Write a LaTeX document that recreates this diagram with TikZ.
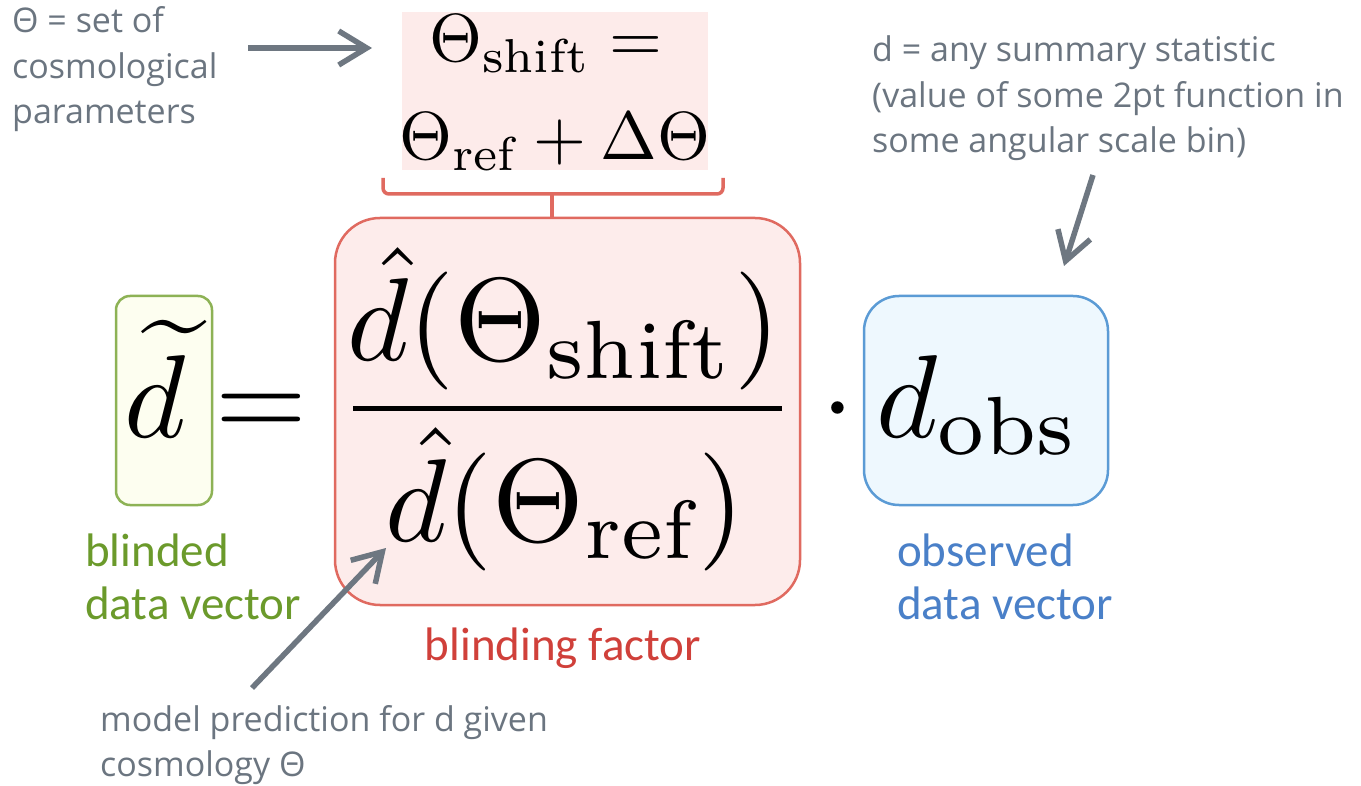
\documentclass[tikz,border=0pt]{standalone}
\usepackage{fontspec}
\usepackage{graphicx}
\usetikzlibrary{arrows.meta}
\newfontfamily\grayfont{Open Sans}
\newfontfamily\calfont{Carlito}
\definecolor{txtgray}{HTML}{6B7580}
\definecolor{arrgray}{HTML}{6E7781}
\definecolor{gtext}{HTML}{6B9A2B}
\definecolor{gline}{HTML}{8DB255}
\definecolor{gfill}{HTML}{FDFEF0}
\definecolor{rtext}{HTML}{D0403A}
\definecolor{rline}{HTML}{E06A60}
\definecolor{rfill}{HTML}{FDECEB}
\definecolor{pfill}{HTML}{FDEBEA}
\definecolor{btext}{HTML}{4A80C8}
\definecolor{bline}{HTML}{5B9BD5}
\definecolor{bfill}{HTML}{EEF8FE}
\tikzset{
  graytxt/.style={anchor=base west, inner sep=0pt, text=txtgray, font=\grayfont\fontsize{34}{34}\selectfont},
  lbl/.style={anchor=base west, inner sep=0pt, font=\calfont\fontsize{47}{47}\selectfont},
  mathnode/.style={anchor=base, inner sep=0pt},
  garrow/.style={draw=arrgray, line width=5.5pt, -{Straight Barb[length=28pt,width=34pt]}},
  boxstyle/.style={rounded corners=#1, line width=2.5pt},
  brace/.style={draw=rline, line width=3.5pt, rounded corners=6pt}
}
\begin{document}
\begin{tikzpicture}[x=1pt,y=-1pt]
\useasboundingbox[fill=white] (0,0) rectangle (1361,786);

% boxes
\node[draw=none, fill=pfill, minimum width=306pt, minimum height=158pt, inner sep=0pt] (pink) at (555,91) {};
\node[draw=gline, fill=gfill, boxstyle=14pt, minimum width=96pt, minimum height=209pt, inner sep=0pt] (gbox) at (164,400.5) {};
\node[draw=rline, fill=rfill, boxstyle=45pt, minimum width=465pt, minimum height=387pt, inner sep=0pt] (rbox) at (567.5,411.5) {};
\node[draw=bline, fill=bfill, boxstyle=35pt, minimum width=244pt, minimum height=209pt, inner sep=0pt] (bbox) at (986,400.5) {};

% top equation
\node[mathnode] (shift) at (546,62) {\scalebox{6.8}{$\Theta_{\mathrm{shift}} =$}};
\node[mathnode] (refd) at (555,160) {\scalebox{6.8}{$\Theta_{\mathrm{ref}} + \Delta\Theta$}};

% brace
\draw[brace] (383,178) -- (383,194) -- (723,194) -- (723,178);
\coordinate (bmid) at (552,194);
\draw[brace, rounded corners=0pt] (bmid) -- (rbox.north -| bmid);

% main equation
\node[mathnode] (dtil) at (155,437) {\scalebox{11.8}{$\widetilde{d}$}};
\node[mathnode] (eq) at (261,437) {\scalebox{11.8}{$=$}};
\node[mathnode] (num) at (564,361) {\scalebox{11.8}{$\hat{d}(\Theta_{\mathrm{shift}})$}};
\coordinate (barl) at (353,409);
\coordinate (barr) at (782,409);
\draw[line width=5pt] (barl) -- (barr);
\node[mathnode] (den) at (565,541) {\scalebox{11.8}{$\hat{d}(\Theta_{\mathrm{ref}})$}};
\node[mathnode] (dot) at (838,437) {\scalebox{11.8}{$\cdot$}};
\node[mathnode] (dobs) at (978,437) {\scalebox{11.8}{$d_{\mathrm{obs}}$}};

% labels
\node[lbl, text=gtext] (bl1) at (85,566) {blinded};
\node[lbl, text=gtext] (bl2) at (85,619) {data vector};
\node[lbl, text=rtext, anchor=base] (bf) at (563,660) {blinding factor};
\node[lbl, text=btext] (ob1) at (897,566) {observed};
\node[lbl, text=btext] (ob2) at (897,619) {data vector};

% gray annotations
\node[graytxt] (tl1) at (12,33) {Θ = set of};
\node[graytxt] (tl2) at (12,79) {cosmological};
\node[graytxt] (tl3) at (12,124) {parameters};

\node[graytxt] (tr1) at (872,62) {d = any summary statistic};
\node[graytxt] (tr2) at (872,108) {(value of some 2pt function in};
\node[graytxt] (tr3) at (872,153) {some angular scale bin)};

\node[graytxt] (bt1) at (100,731) {model prediction for d given};
\node[graytxt] (bt2) at (100,776) {cosmology Θ};

% arrows
\coordinate (a1s) at (248,48);
\coordinate (a1e) at (372,48);
\coordinate (a2s) at (1093,175);
\coordinate (a2e) at (1064,266);
\coordinate (a3s) at (252,688);
\coordinate (a3e) at (386,548);
\draw[garrow] (a1s) -- (a1e);
\draw[garrow] (a2s) -- (a2e);
\draw[garrow] (a3s) -- (a3e);
\end{tikzpicture}
\end{document}
